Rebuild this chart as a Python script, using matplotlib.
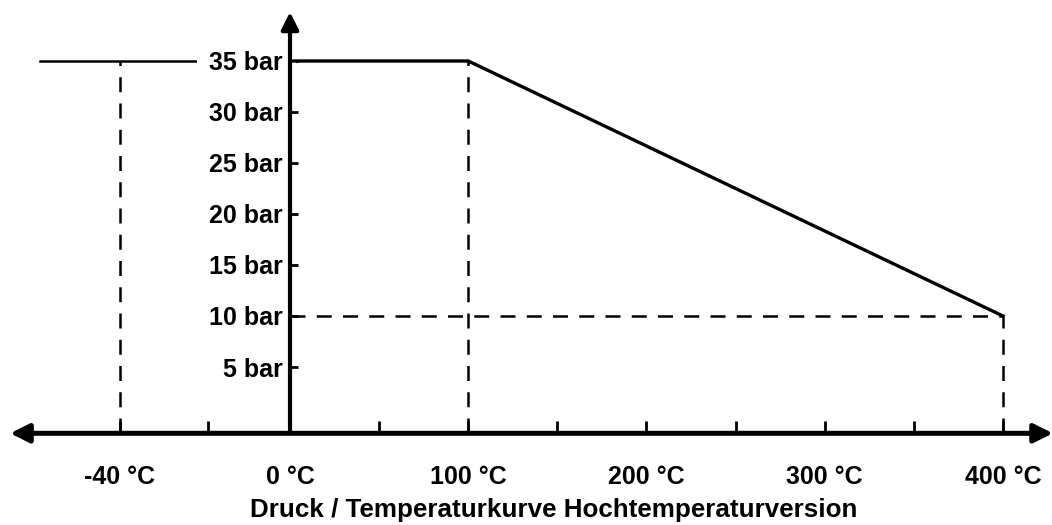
import matplotlib
matplotlib.use("Agg")
import matplotlib.pyplot as plt

# ---- data ----
curve_temps = [0, 100, 400]          # °C
curve_pressures = [35, 35, 10]       # bar
low_temp = -40                       # °C (drawn off-scale, compressed left side)
low_pressure = 35                    # bar
y_ticks = [5, 10, 15, 20, 25, 30, 35]
y_labels = ["5 bar", "10 bar", "15 bar", "20 bar", "25 bar", "30 bar", "35 bar"]
x_tick_temps = [-40, 0, 100, 200, 300, 400]
x_labels = ["-40 °C", "0 °C", "100 °C", "200 °C", "300 °C", "400 °C"]
x_minor_pos = [-46, 50, 150, 250, 350]
title = "Druck / Temperaturkurve Hochtemperaturversion"

# left side of the drawing is not to scale
def pos(t):
    return t if t >= 0 else t * 2.39

plt.rcParams['font.family'] = ['Liberation Sans', 'DejaVu Sans']
plt.rcParams['font.weight'] = 'bold'

fig = plt.figure(figsize=(10.52, 5.25), dpi=100)
ax = fig.add_axes([0, 0, 1, 1])
ax.set_xlim(-162.7, 427.5)
ax.set_ylim(-10.49, 40.98)

axis_y = -1.5
fs = 18

# dashed guide lines
dash = dict(color='black', lw=1.8, ls=(0, (6, 4.5)), zorder=2)
ax.plot([pos(low_temp)] * 2, [axis_y, low_pressure], **dash)
ax.plot([pos(curve_temps[1])] * 2, [axis_y, curve_pressures[1]], **dash)
ax.plot([pos(curve_temps[2])] * 2, [axis_y, curve_pressures[2]], **dash)
ax.plot([0, pos(curve_temps[2])], [curve_pressures[2]] * 2, **dash)

# curves
ax.plot([-140, 0], [low_pressure, low_pressure], color='black', lw=1.8, zorder=1)
ax.plot([pos(t) for t in curve_temps], curve_pressures, color='black', lw=2.4,
        zorder=3, solid_joinstyle='miter')

# axes with arrows
ax.annotate('', xy=(-157, axis_y), xytext=(428, axis_y),
            arrowprops=dict(arrowstyle='<|-|>', lw=3.6, color='black',
                            mutation_scale=28, shrinkA=0, shrinkB=0), zorder=4)
ax.annotate('', xy=(0, 39.8), xytext=(0, axis_y),
            arrowprops=dict(arrowstyle='-|>', lw=3.0, color='black',
                            mutation_scale=26, shrinkA=0, shrinkB=0), zorder=4)

for s in ax.spines.values():
    s.set_visible(False)
ax.spines['bottom'].set_position(('data', axis_y))
ax.spines['left'].set_position(('data', 0))

ax.set_yticks(y_ticks)
ax.set_yticklabels(y_labels, fontsize=fs, fontweight='bold')
ax.tick_params(axis='y', direction='in', length=6, width=2, pad=5)
for lab in ax.get_yticklabels():
    if lab.get_text() == "35 bar":
        lab.set_bbox(dict(facecolor='white', edgecolor='none', pad=9))

ax.set_xticks([pos(t) for t in x_tick_temps])
ax.set_xticklabels(x_labels, fontsize=fs, fontweight='bold')
ax.set_xticks(x_minor_pos, minor=True)
ax.tick_params(axis='x', which='both', direction='in', length=9, width=2, pad=23)

ax.text(0.526, 0.028, title, transform=ax.transAxes, ha='center', va='center',
        fontsize=18.7, fontweight='bold')

fig.savefig("out.png", dpi=100, facecolor='white')
